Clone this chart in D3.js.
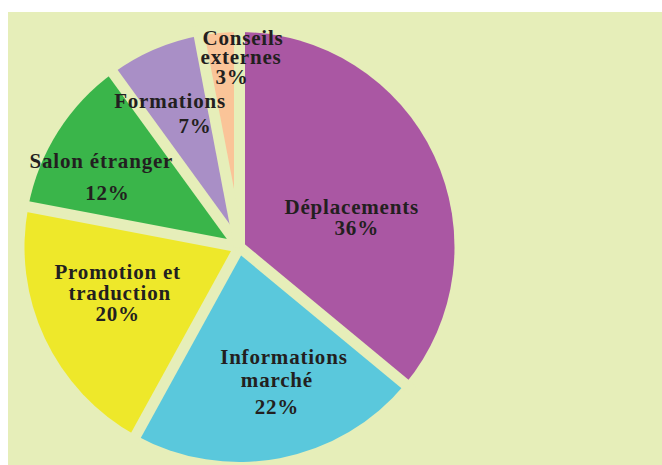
<!DOCTYPE html>
<html>
<head>
<meta charset="utf-8">
<script src="https://cdn.jsdelivr.net/npm/d3@7"></script>
<style>
  body { margin: 0; background: #fff; }
  svg { display: block; }
  .label {
    font-family: "Liberation Serif", "Times New Roman", serif;
    font-weight: bold;
    font-size: 21px;
    fill: #231f20;
    letter-spacing: 0.8px;
  }
</style>
</head>
<body>
<svg></svg>
<script>
// data
var categories = ["Déplacements", "Informations marché", "Promotion et traduction", "Salon étranger", "Formations", "Conseils externes"];
var shares = [36, 22, 20, 12, 7, 3];
var colors = ["#aa57a3", "#5ac8dc", "#eee82a", "#3ab54a", "#a98fc6", "#fac498"];
var labelLines = [
  ["Déplacements"],
  ["Informations", "marché"],
  ["Promotion et", "traduction"],
  ["Salon étranger"],
  ["Formations"],
  ["Conseils", "externes"]
];

// where each label block sits: polar position of first baseline (deg clockwise from top),
// spacing between lines and small x nudges per line (last one is the % line)
var labelLayout = [
  {angle: 73.6,  r: 117, gaps: [21],     dx: [0, 5]},
  {angle: 159.2, r: 125, gaps: [23, 27], dx: [0, -7, -7]},
  {angle: 255.2, r: 126, gaps: [21, 21], dx: [0, 2, 0]},
  {angle: 299.7, r: 159, gaps: [32],     dx: [0, 6]},
  {angle: 333.4, r: 155, gaps: [25],     dx: [0, 25]},
  {angle: 1.0,   r: 202, gaps: [19, 20], dx: [0, -2, -11]}
];

var bg = "#e6eeb9",
    width = 662,
    height = 465,
    cx = 239.5,
    cy = 247,
    radius = 215,
    gapWidth = 11;

var svg = d3.select("svg")
    .attr("width", width)
    .attr("height", height);

svg.append("rect")
    .attr("x", 8)
    .attr("y", 12)
    .attr("width", width - 8)
    .attr("height", height - 12)
    .attr("fill", bg);

var pie = d3.pie()
    .sort(null)
    .value(function(d) { return d; });

var arc = d3.arc()
    .innerRadius(0)
    .outerRadius(radius);

var arcs = pie(shares);

var g = svg.append("g")
    .attr("transform", "translate(" + cx + "," + cy + ")");

g.selectAll("path.slice")
    .data(arcs).enter()
    .append("path")
    .attr("class", "slice")
    .attr("d", arc)
    .attr("fill", function(d, i) { return colors[i]; });

// the light gaps between slices (constant width, like the original)
g.selectAll("line.gap")
    .data(arcs).enter()
    .append("line")
    .attr("class", "gap")
    .attr("x1", 0)
    .attr("y1", 0)
    .attr("x2", function(d) { return Math.sin(d.startAngle) * (radius + 10); })
    .attr("y2", function(d) { return -Math.cos(d.startAngle) * (radius + 10); })
    .attr("stroke", bg)
    .attr("stroke-width", gapWidth);

// labels
arcs.forEach(function(d, i) {
  var lay = labelLayout[i],
      a = lay.angle * Math.PI / 180,
      x = Math.sin(a) * lay.r,
      y = -Math.cos(a) * lay.r,
      lines = labelLines[i].concat([shares[i] + "%"]);

  var text = g.append("text")
      .attr("class", "label")
      .attr("text-anchor", "middle")
      .attr("x", x)
      .attr("y", y);

  lines.forEach(function(line, j) {
    text.append("tspan")
        .attr("x", x + (lay.dx[j] || 0))
        .attr("dy", j === 0 ? 0 : lay.gaps[j - 1])
        .text(line);
  });
});
</script>
</body>
</html>
